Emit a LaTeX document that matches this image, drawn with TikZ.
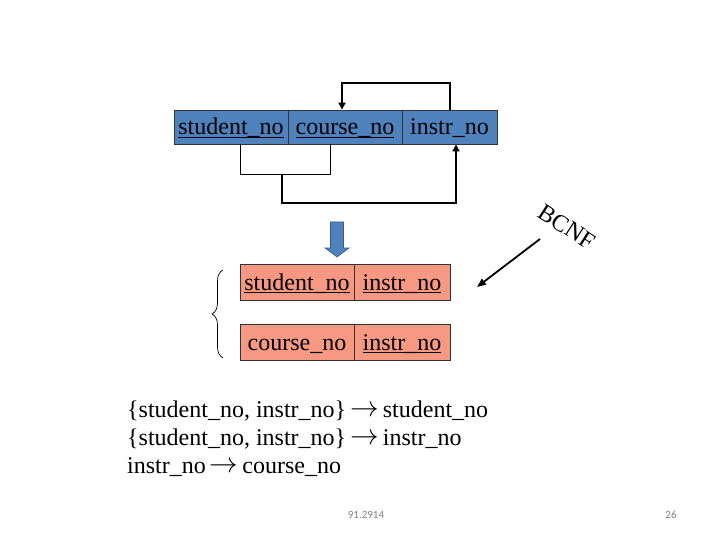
\documentclass[tikz,border=0pt]{standalone}
\usepackage{fontspec}
\setmainfont{Liberation Serif}
\newfontfamily\footfont{Carlito}
\usetikzlibrary{arrows.meta,decorations.pathreplacing}
\definecolor{relblue}{RGB}{79,129,189}
\definecolor{relsalmon}{RGB}{246,152,130}
\definecolor{footgray}{RGB}{128,128,128}
\newcommand{\keyul}[1]{\setbox0\hbox{#1}\rlap{\raisebox{-3.4pt}{\rule{\wd0}{1.6pt}}}\box0}
\newcommand{\fdarrow}{\,\raisebox{0.5pt}{\scalebox{1.15}{$\rightarrow$}}\,}
\tikzset{
  bluecell/.style={draw=black!80, line width=0.8pt, fill=relblue, minimum height=34pt, inner sep=0pt, text height=19pt, text depth=3pt, font=\fontsize{24}{28}\selectfont},
  salcell/.style={draw=black!80, line width=0.8pt, fill=relsalmon, minimum height=36pt, inner sep=0pt, text height=19pt, text depth=3pt, font=\fontsize{24}{28}\selectfont},
  fdtext/.style={anchor=base west, inner sep=0pt, font=\fontsize{24}{28}\selectfont},
  loopline/.style={line width=2.8pt},
  tipd/.style={-{Triangle[length=7pt,width=7pt]}},
  foot/.style={font=\footfont\fontsize{11}{13}\selectfont, text=footgray, inner sep=0pt},
  bcnf/.style={font=\fontsize{24}{28}\selectfont, inner sep=0pt}
}
\begin{document}
\begin{tikzpicture}[x=1pt,y=-1pt]
\useasboundingbox (0,0) rectangle (720,540);
% top relation
\node[bluecell, minimum width=114pt] (t1) at (231,127) {\keyul{student\_no}};
\node[bluecell, minimum width=114pt] (t2) at (345,127) {\keyul{course\_no}};
\node[bluecell, minimum width=95pt] (t3) at (449.5,127) {instr\_no};
% top loop arrow instr_no -> course_no
\coordinate (ta) at (450,83);
\coordinate (tb) at (342,83);
\draw[loopline, tipd] (t3.north -| ta) -- (ta) -- (tb) -- (t2.north -| tb);
% bottom thin bracket joining student_no and course_no
\coordinate (ba) at (240,174);
\coordinate (bb) at (330,174);
\draw[line width=0.9pt] (t1.south -| ba) -- (ba) -- (bb) -- (t2.south -| bb);
% thick arrow to instr_no
\coordinate (bm) at (282,174);
\coordinate (bc) at (282,203);
\coordinate (bd) at (456,203);
\draw[loopline, tipd] (bm) -- (bc) -- (bd) -- (t3.south -| bd);
% block arrow
\draw[fill=relblue, draw=relblue!70!black, line width=0.6pt]
  (330.5,222) -- (343.5,222) -- (343.5,248) -- (349,248) -- (337,257) -- (325,248) -- (330.5,248) -- cycle;
% lower relations
\node[salcell, minimum width=114pt] (s1) at (297,282) {\keyul{student\_no}};
\node[salcell, minimum width=96pt] (s2) at (402,282) {\keyul{instr\_no}};
\node[salcell, minimum width=114pt] (c1) at (297,342) {course\_no};
\node[salcell, minimum width=96pt] (c2) at (402,342) {\keyul{instr\_no}};
% brace
\coordinate (br1) at (223,358);
\coordinate (br2) at (223,270);
\draw[line width=0.7pt, decorate, decoration={brace, amplitude=11pt}] (br1) -- (br2);
% BCNF
\node[bcnf, rotate=-33] (bcnf) at (567,227) {BCNF};
\coordinate (ba1) at (540,239);
\coordinate (ba2) at (477,287);
\draw[line width=1.8pt, -{Triangle[length=9pt,width=7pt]}] (ba1) -- (ba2);
% FDs
\node[fdtext] (f1) at (127,417) {\{student\_no, instr\_no\}\fdarrow student\_no};
\node[fdtext] (f2) at (127,445) {\{student\_no, instr\_no\}\fdarrow instr\_no};
\node[fdtext] (f3) at (127,473) {instr\_no\fdarrow course\_no};
% footer
\node[foot] (pg) at (366,515) {91.2914};
\node[foot] (num) at (671,515) {26};
\end{tikzpicture}
\end{document}
